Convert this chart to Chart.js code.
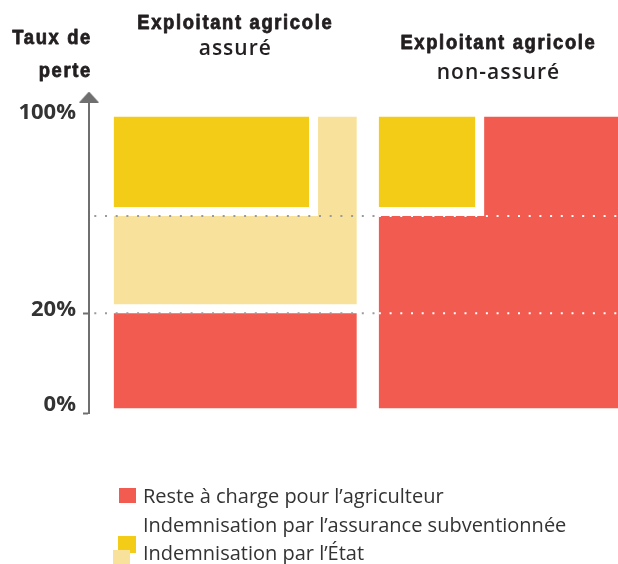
<!DOCTYPE html>
<html lang="fr">

<head>
    <meta charset="UTF-8">
    <title>Taux de perte</title>
    <script src="https://cdn.jsdelivr.net/npm/chart.js"></script>
    <style>
        body { margin: 0; background: #fff; }
        .cadre { position: relative; width: 618px; height: 564px; }
        #legende {
            position: absolute; left: 113px; top: 482px; margin: 0; padding: 0; list-style: none;
            font-family: 'Open Sans', sans-serif; font-size: 20px; color: #333;
        }
        #legende li { position: relative; height: 28.5px; line-height: 28.5px; padding-left: 30px; white-space: nowrap; }
        #legende .case { position: absolute; }
    </style>
</head>

<body>
    <div class="cadre">
        <canvas id="graphique"></canvas>
        <ul id="legende"></ul>
    </div>

    <script>
        // Axe vertical : taux de perte (%)
        const paliers = [0, 20, 50, 100];
        const etiquettesPaliers = ['0%', '20%', '', '100%'];
        // l'axe du schéma n'est pas proportionnel : hauteur relative de chaque palier
        const hauteursPaliers = [0, 32.6, 66, 100];
        const niveauxPointilles = [20, 50];
        const titreAxe = ['Taux de', 'perte'];

        // Colonnes (largeur schématique de 0 à 100)
        const groupes = [['Exploitant agricole', 'assuré'], ['Exploitant agricole', 'non-assuré']];
        const bornesGroupes = [[4.7, 50.6], [54.8, 100]];

        const series = [
            'Reste à charge pour l’agriculteur',
            'Indemnisation par l’assurance subventionnée',
            'Indemnisation par l’État'
        ];

        // Blocs de chaque série : sommets [largeur, taux de perte]
        const blocsReste = [
            [[4.7, 0], [50.6, 0], [50.6, 20], [4.7, 20]],
            [[54.8, 0], [100, 0], [100, 100], [74.7, 100], [74.7, 50], [54.8, 50]]
        ];
        const blocsAssurance = [
            [[4.7, 20], [50.6, 20], [50.6, 100], [43.3, 100], [43.3, 50], [4.7, 50]]
        ];
        const blocsEtat = [
            [[4.7, 50], [43.3, 50], [43.3, 100], [4.7, 100]],
            [[54.8, 50], [74.7, 50], [74.7, 100], [54.8, 100]]
        ];

        const blocs = [blocsReste, blocsAssurance, blocsEtat];
        const couleurs = ['#f15b50', '#f8e19b', '#f2cc17'];

        // interpolation linéaire par morceaux (prolongée aux deux bouts)
        function interpole(v, de, vers) {
            let i = 1;
            while (i < de.length - 1 && v > de[i]) i++;
            const t = (v - de[i - 1]) / (de[i] - de[i - 1]);
            return vers[i - 1] + t * (vers[i] - vers[i - 1]);
        }

        // échelle linéaire dont les paliers sont placés comme sur le schéma
        const LinearScale = Chart.LinearScale || Chart.registry.getScale('linear');
        class AxePaliers extends LinearScale {
            static id = 'paliers';
            configure() {
                super.configure();
                this._startValue = interpole(this.min, paliers, hauteursPaliers);
                this._endValue = interpole(this.max, paliers, hauteursPaliers);
                this._valueRange = this._endValue - this._startValue;
            }
            getPixelForValue(value) {
                return value === null ? NaN : super.getPixelForValue(interpole(value, paliers, hauteursPaliers));
            }
            getValueForPixel(pixel) {
                return interpole(super.getValueForPixel(pixel), hauteursPaliers, paliers);
            }
        }
        Chart.register(AxePaliers);

        const yMin = -1, yMax = 110;

        // pointe de flèche de l'axe
        const fleche = document.createElement('canvas');
        fleche.width = 20;
        fleche.height = 11;
        const fc = fleche.getContext('2d');
        fc.fillStyle = '#6f6f6f';
        fc.beginPath();
        fc.moveTo(10, 0);
        fc.lineTo(20, 11);
        fc.lineTo(0, 11);
        fc.closePath();
        fc.fill();

        const sommets = (bloc) => [...bloc, bloc[0]].map(([x, y]) => ({ x, y }));

        // chaque bloc : un contour blanc (l'espace avec le bloc dessiné avant) puis la surface
        const jeux = [];
        const ordreDessin = [2, 1, 0];
        ordreDessin.forEach((s, r) => {
            blocs[s].forEach((bloc) => {
                jeux.push({
                    label: series[s], data: sommets(bloc), borderColor: '#fff', borderWidth: 18,
                    borderJoinStyle: 'miter', borderCapStyle: 'square', pointRadius: 0, fill: false,
                    order: 2 * (3 - r)
                });
                jeux.push({
                    label: series[s], data: sommets(bloc), backgroundColor: couleurs[s],
                    borderColor: 'rgba(0,0,0,0)', borderWidth: 1, pointRadius: 0, fill: 'shape',
                    order: 2 * (3 - r) - 1
                });
            });
        });

        niveauxPointilles.forEach((p) => {
            const debutDroite = bornesGroupes[1][0];
            jeux.push({
                data: [{ x: 1, y: p }, { x: debutDroite, y: p }], borderColor: '#9a9a9a', borderWidth: 2,
                borderDash: [2, 8.7], pointRadius: 0, order: 0
            });
            jeux.push({
                data: [{ x: debutDroite, y: p }, { x: 100, y: p }], borderColor: '#ffffff', borderWidth: 2,
                borderDash: [2, 8.7], pointRadius: 0, order: 0
            });
        });

        jeux.push({
            data: [{ x: 0, y: yMax }], pointStyle: fleche, pointRadius: 10, showLine: false,
            clip: false, order: 0
        });

        // texte gras étroit : police resserrée horizontalement et épaissie
        function texteEtroit(ctx, texte, x, y, align) {
            ctx.save();
            ctx.translate(x, y);
            ctx.scale(0.92, 1);
            ctx.font = "bold 20px 'Liberation Sans', Arial, sans-serif";
            ctx.letterSpacing = '1.8px';
            ctx.textAlign = align;
            ctx.lineWidth = 0.8;
            ctx.lineJoin = 'round';
            ctx.strokeStyle = ctx.fillStyle;
            ctx.fillText(texte, 0, 0);
            ctx.strokeText(texte, 0, 0);
            ctx.restore();
        }

        const entetes = {
            id: 'entetes',
            afterDraw(chart) {
                const { ctx, chartArea } = chart;
                const x = chart.scales.x;
                ctx.save();
                ctx.fillStyle = '#231f20';
                ctx.textBaseline = 'alphabetic';
                texteEtroit(ctx, titreAxe[0], chartArea.left + 3, 44, 'right');
                texteEtroit(ctx, titreAxe[1], chartArea.left + 3, 77, 'right');

                const lignes = [[29, 55], [49, 79]];
                groupes.forEach((g, i) => {
                    const cx = x.getPixelForValue((bornesGroupes[i][0] + bornesGroupes[i][1]) / 2);
                    texteEtroit(ctx, g[0], cx, lignes[i][0], 'center');
                    ctx.font = "600 21px 'Open Sans', sans-serif";
                    ctx.letterSpacing = '1px';
                    ctx.textAlign = 'center';
                    ctx.fillText(g[1], cx, lignes[i][1]);
                });
                ctx.restore();
            }
        };

        new Chart(document.getElementById('graphique'), {
            type: 'line',
            data: { datasets: jeux },
            options: {
                responsive: true,
                maintainAspectRatio: false,
                animation: false,
                events: [],
                layout: { autoPadding: false, padding: { top: 97, bottom: 151, left: 0, right: 0 } },
                plugins: {
                    legend: { display: false },
                    tooltip: { enabled: false }
                },
                scales: {
                    x: { type: 'linear', min: 0, max: 100, display: false },
                    y: {
                        type: 'paliers',
                        position: 'left',
                        min: yMin,
                        max: yMax,
                        afterFit: (axe) => { axe.width = 89; },
                        afterBuildTicks: (axe) => { axe.ticks = [yMin, ...paliers].map((v) => ({ value: v })); },
                        ticks: {
                            autoSkip: false,
                            padding: 7,
                            labelOffset: -4,
                            color: '#333',
                            font: { family: "'Open Sans', sans-serif", size: 22, weight: 'bold' },
                            callback: (v) => {
                                const i = paliers.indexOf(v);
                                return i >= 0 ? etiquettesPaliers[i] : '';
                            }
                        },
                        grid: {
                            drawOnChartArea: false,
                            tickLength: 6,
                            tickWidth: 2,
                            tickColor: (c) => (c.tick && (c.tick.value === 20 || c.tick.value === yMin)) ? '#6f6f6f' : 'rgba(0,0,0,0)'
                        },
                        border: { color: '#6f6f6f', width: 2 }
                    }
                }
            },
            plugins: [entetes]
        });

        // légende
        const placementCases = [[6, 6, 17, 15, 0], [0, 39, 17, 15, 1], [5, -3, 18, 17, 0]];
        const legende = document.getElementById('legende');
        series.forEach((nom, i) => {
            const li = document.createElement('li');
            const c = document.createElement('span');
            const [l, t, w, h, z] = placementCases[i];
            c.className = 'case';
            c.style.cssText = `left:${l}px;top:${t}px;width:${w}px;height:${h}px;z-index:${z};background:${couleurs[i]}`;
            li.appendChild(c);
            li.appendChild(document.createTextNode(nom));
            legende.appendChild(li);
        });
    </script>
</body>

</html>
